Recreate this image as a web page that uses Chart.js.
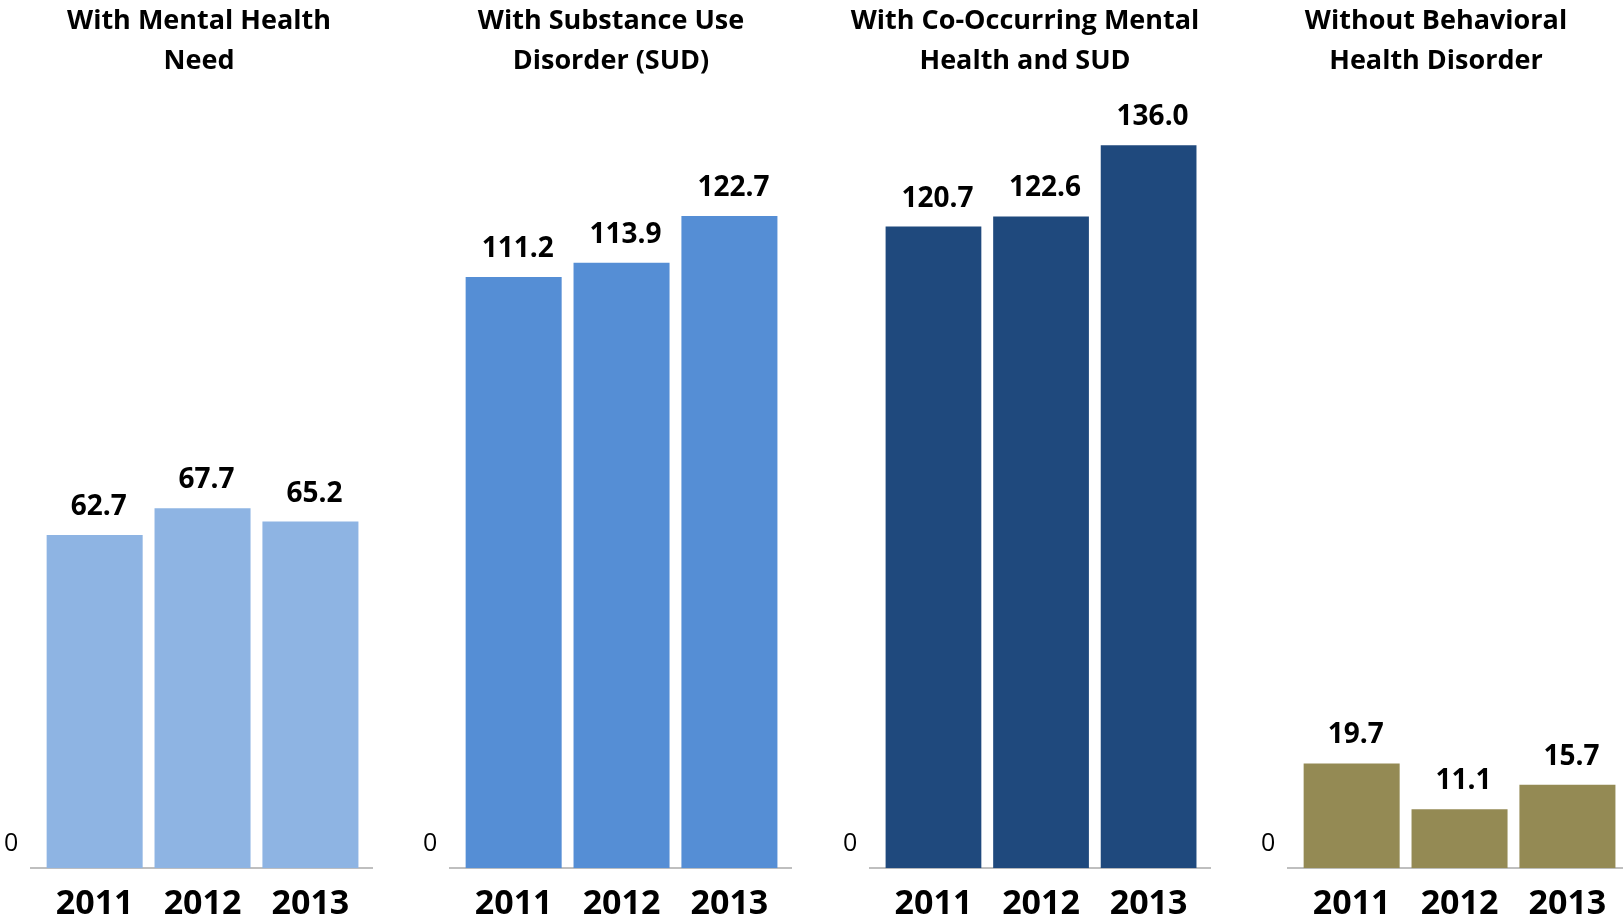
<!DOCTYPE html>
<html>
<head>
<meta charset="utf-8">
<script src="https://cdn.jsdelivr.net/npm/chart.js@4/dist/chart.umd.min.js"></script>
<style>
  html, body { margin: 0; padding: 0; background: #fff; overflow: hidden; }
  body { width: 1623px; height: 917px; position: relative; }
  canvas { position: absolute; top: 0; }
</style>
</head>
<body>
<canvas id="c1"></canvas>
<canvas id="c2"></canvas>
<canvas id="c3"></canvas>
<canvas id="c4"></canvas>
<script>
// data
const years = ['2011', '2012', '2013'];
const yTicks = [0];
const mentalHealth = [62.7, 67.7, 65.2];
const substanceUse = [111.2, 113.9, 122.7];
const coOccurring = [120.7, 122.6, 136.0];
const noDisorder = [19.7, 11.1, 15.7];

const titleMental = ['With Mental Health', 'Need'];
const titleSud = ['With Substance Use', 'Disorder (SUD)'];
const titleCo = ['With Co-Occurring Mental', 'Health and SUD'];
const titleNone = ['Without Behavioral', 'Health Disorder'];

const FONT = '"Open Sans", "Noto Sans", sans-serif';
const CANVAS_H = 941; // a bit taller than the window, bottom gets clipped

// value labels above each bar
const valueLabels = {
    id: 'valueLabels',
    afterDatasetsDraw(chart) {
        const ctx = chart.ctx;
        const meta = chart.getDatasetMeta(0);
        const ds = chart.data.datasets[0].data;
        ctx.save();
        ctx.font = 'bold 28px ' + FONT;
        ctx.fillStyle = '#000';
        ctx.textAlign = 'center';
        ctx.textBaseline = 'alphabetic';
        meta.data.forEach((bar, i) => {
            ctx.fillText(ds[i].y.toFixed(1), bar.x + 4, bar.y - 20);
        });
        ctx.restore();
    }
};

function makePanel(id, title, values, color, box) {
    const canvas = document.getElementById(id);
    canvas.width = box.width;
    canvas.height = CANVAS_H;
    canvas.style.left = box.left + 'px';
    canvas.style.width = box.width + 'px';
    canvas.style.height = CANVAS_H + 'px';

    return new Chart(canvas.getContext('2d'), {
        type: 'bar',
        data: {
            datasets: [{
                data: values.map((v, i) => ({ x: i, y: v })),
                backgroundColor: color,
                barPercentage: 0.89,
                categoryPercentage: 1
            }]
        },
        options: {
            responsive: false,
            devicePixelRatio: 1,
            animation: false,
            layout: { padding: { left: box.padL, right: 0, top: 0, bottom: 0 } },
            plugins: {
                legend: { display: false },
                tooltip: { enabled: false },
                title: {
                    display: true,
                    text: title,
                    color: '#000',
                    font: { family: FONT, size: 27, weight: 'bold', lineHeight: '40px' },
                    padding: { top: 1, bottom: 43 }
                }
            },
            scales: {
                x: {
                    type: 'linear',
                    min: -0.59,
                    max: 2.58,
                    offset: false,
                    grid: { display: false, drawTicks: false, offset: false },
                    border: { display: true, color: '#bfbfbf', width: 2 },
                    afterBuildTicks: s => { s.ticks = years.map((y, i) => ({ value: i })); },
                    ticks: {
                        padding: 16,
                        maxRotation: 0,
                        autoSkip: false,
                        color: '#000',
                        font: { family: FONT, size: 34, weight: 'bold' },
                        callback: v => years[v] ?? ''
                    }
                },
                y: {
                    min: 0,
                    max: 140,
                    grid: { display: false, drawTicks: false },
                    border: { display: false },
                    afterBuildTicks: s => { s.ticks = yTicks.map(v => ({ value: v })); },
                    afterFit: s => { s.width = box.yW; },
                    ticks: {
                        // mirrored so the label is not clipped to the narrow axis box
                        mirror: true,
                        padding: -27,
                        labelOffset: -24,
                        color: '#000',
                        font: { family: FONT, size: 25 }
                    }
                }
            }
        },
        plugins: [valueLabels]
    });
}

makePanel('c1', titleMental, mentalHealth, '#8EB4E3', { left: 0, width: 373, padL: 25, yW: 6 });
makePanel('c2', titleSud, substanceUse, '#558ED5', { left: 400, width: 392, padL: 30, yW: 20 });
makePanel('c3', titleCo, coOccurring, '#1F497D', { left: 820, width: 391, padL: 19, yW: 31 });
makePanel('c4', titleNone, noDisorder, '#948A54', { left: 1240, width: 390, padL: 2, yW: 46 });
</script>
</body>
</html>
